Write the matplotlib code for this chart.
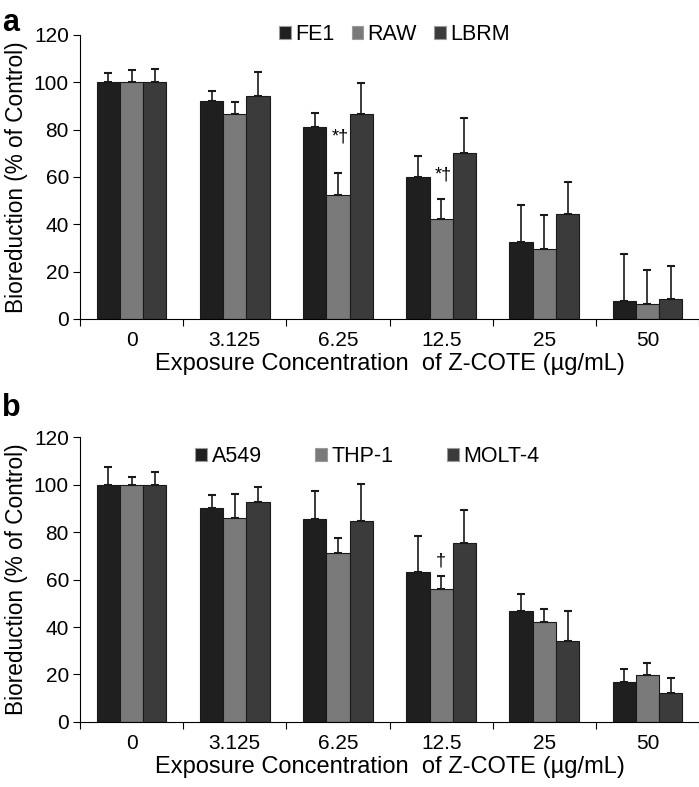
import matplotlib.pyplot as plt
import numpy as np

plt.rcParams['font.family'] = ['Liberation Sans', 'DejaVu Sans']

concentrations = ['0', '3.125', '6.25', '12.5', '25', '50']

# panel a
labels_a = ['FE1', 'RAW', 'LBRM']
fe1 = [100, 92.1, 81.1, 59.9, 32.4, 7.6]
fe1_err = [4.0, 4.4, 5.9, 9.0, 15.8, 20.0]
raw = [100, 86.7, 52.4, 42.3, 29.6, 6.2]
raw_err = [5.0, 4.8, 9.4, 8.4, 14.3, 14.7]
lbrm = [100, 94.2, 86.6, 70.3, 44.4, 8.6]
lbrm_err = [5.5, 10.2, 13.2, 14.7, 13.4, 13.7]

# panel b
labels_b = ['A549', 'THP-1', 'MOLT-4']
a549 = [100, 90.0, 85.5, 63.3, 46.6, 16.8]
a549_err = [7.2, 5.4, 11.9, 15.0, 7.3, 5.4]
thp1 = [100, 85.8, 71.3, 56.0, 42.2, 19.9]
thp1_err = [3.3, 10.1, 6.2, 5.6, 5.5, 4.9]
molt4 = [100, 92.6, 84.8, 75.5, 34.2, 12.3]
molt4_err = [5.3, 6.5, 15.5, 13.6, 12.4, 6.4]

colors = ['#1f1f1f', '#7a7a7a', '#3b3b3b']

fig = plt.figure(figsize=(6.99, 7.87), dpi=100)
ax_a = fig.add_axes([0.1145, 0.5947, 0.8856, 0.3609])
ax_b = fig.add_axes([0.1145, 0.0826, 0.8856, 0.3621])


def draw_panel(ax, series, errs, names, legend_x, colsp):
    x = np.arange(len(concentrations))
    w = 0.225
    for i, (vals, err, name) in enumerate(zip(series, errs, names)):
        ax.bar(x + (i - 1) * w, vals, w, color=colors[i], edgecolor='#1a1a1a',
               linewidth=0.8, label=name, zorder=2)
        ax.errorbar(x + (i - 1) * w, vals, yerr=[np.zeros(len(err)), err],
                    fmt='none', ecolor='#1a1a1a', elinewidth=1.2,
                    capsize=3, capthick=1.5, zorder=3)
    ax.set_xlim(-0.5, len(concentrations) - 0.5)
    ax.set_ylim(0, 120)
    ax.set_yticks(range(0, 121, 20))
    ax.set_xticks(np.arange(-0.5, len(concentrations)), minor=False)
    ax.set_xticklabels([])
    ax.set_xticks(x, minor=True)
    ax.set_xticklabels(concentrations, minor=True, fontsize=15)
    ax.tick_params(axis='x', which='major', direction='out', length=5)
    ax.tick_params(axis='x', which='minor', length=0, pad=9)
    ax.tick_params(axis='y', direction='out', length=5, labelsize=15, pad=3)
    for s in ['top', 'right']:
        ax.spines[s].set_visible(False)
    ax.set_ylabel('Bioreduction (% of Control)', fontsize=16.3, labelpad=4)
    ax.set_xlabel('Exposure Concentration  of Z-COTE (\u00b5g/mL)',
                  fontsize=17, labelpad=2)
    leg = ax.legend(ncol=3, loc='upper left', bbox_to_anchor=legend_x,
                    frameon=False, fontsize=15.5, handlelength=0.55,
                    handleheight=0.55, handletextpad=0.2, columnspacing=colsp)
    for h in leg.legend_handles:
        h.set_edgecolor('#9a9a9a')


draw_panel(ax_a, [fe1, raw, lbrm], [fe1_err, raw_err, lbrm_err],
           labels_a, (0.29, 1.105), 0.8)
draw_panel(ax_b, [a549, thp1, molt4], [a549_err, thp1_err, molt4_err],
           labels_b, (0.155, 1.035), 2.5)

# significance marks
ax_a.text(2.02, 77, '*\u2020', ha='center', va='center', fontsize=13)
ax_a.text(3.02, 61, '*\u2020', ha='center', va='center', fontsize=13)
ax_b.text(3, 68, '\u2020', ha='center', va='center', fontsize=13)

fig.text(0.003, 0.99, 'a', fontsize=22, fontweight='bold', va='top')
fig.text(0.003, 0.5, 'b', fontsize=22, fontweight='bold', va='top')

fig.savefig('out.png', dpi=100)
